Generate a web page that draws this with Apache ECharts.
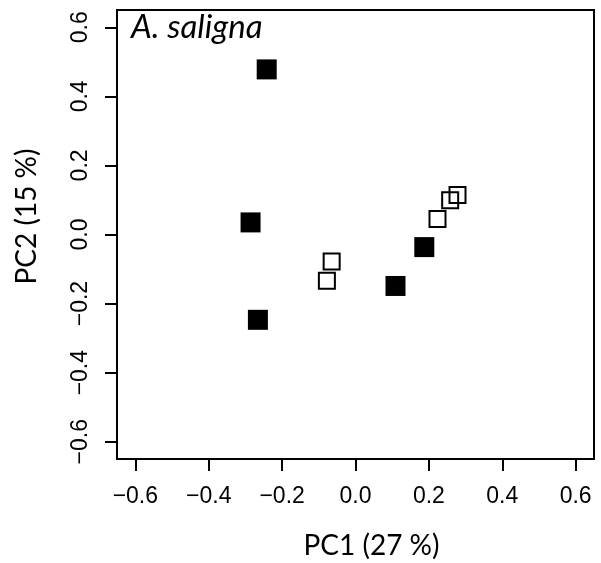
<!DOCTYPE html>
<html>
<head>
<meta charset="utf-8">
<script src="https://cdn.jsdelivr.net/npm/echarts@6/dist/echarts.min.js"></script>
<style>html,body{margin:0;padding:0;background:#fff}#c{width:601px;height:563px}</style>
</head>
<body>
<div id="c"></div>
<script>
// Data
var filledX = [-0.286, -0.266, 0.109, 0.1875, -0.242];
var filledY = [0.035, -0.247, -0.149, -0.0365, 0.478];
var openX = [-0.065, -0.078, 0.2235, 0.258, 0.278];
var openY = [-0.078, -0.134, 0.045, 0.099, 0.1145];
var tickValues = [-0.6, -0.4, -0.2, 0.0, 0.2, 0.4, 0.6];
var xTitle = 'PC1 (27 %)';
var yTitle = 'PC2 (15 %)';
var panelTitle = 'A. saligna';

function pairs(xs, ys) { return xs.map(function (x, i) { return [x, ys[i]]; }); }
function fmt(v) { var s = Math.abs(v).toFixed(1); return (v < -1e-9 ? '\u2212' : '') + s; }

var chart = echarts.init(document.getElementById('c'), null, { renderer: 'canvas' });
var axisCommon = {
  type: 'value', min: -0.65, max: 0.65,
  axisLine: { show: true, onZero: false, lineStyle: { color: '#000', width: 2 } },
  axisTick: { show: true, customValues: tickValues, length: 12, lineStyle: { color: '#000', width: 2 } },
  axisLabel: { customValues: tickValues, formatter: fmt, color: '#000', fontFamily: 'Liberation Sans', fontSize: 23, margin: 26 },
  splitLine: { show: false },
  nameLocation: 'middle'
};
chart.setOption({
  animation: false,
  backgroundColor: '#fff',
  title: { text: panelTitle, left: 126, top: 6, textStyle: { fontFamily: 'Lato', fontStyle: 'italic', fontWeight: 'normal', fontSize: 33, color: '#000' } },
  grid: { left: 117, right: 7, top: 10, bottom: 104, outerBoundsMode: 'none', containLabel: false, show: true, borderColor: '#000', borderWidth: 2, backgroundColor: 'transparent' },
  xAxis: Object.assign({}, axisCommon, {
    name: xTitle, nameGap: 73,
    nameTextStyle: { fontFamily: 'Lato', fontSize: 28, color: '#000', padding: [0, 0, 0, 32] }
  }),
  yAxis: Object.assign({}, axisCommon, {
    axisLabel: Object.assign({}, axisCommon.axisLabel, { rotate: 90, margin: 25 }),
    name: yTitle, nameGap: 76, nameRotate: 90,
    nameTextStyle: { fontFamily: 'Lato', fontSize: 28, color: '#000', padding: [0, 0, 0, 36] }
  }),
  series: [
    { type: 'scatter', data: pairs(filledX, filledY), symbol: 'rect', symbolSize: 20, itemStyle: { color: '#000', opacity: 1 } },
    { type: 'scatter', data: pairs(openX, openY), symbol: 'rect', symbolSize: 16, itemStyle: { color: 'transparent', borderColor: '#000', borderWidth: 2, opacity: 1 } }
  ]
});
</script>
</body>
</html>
